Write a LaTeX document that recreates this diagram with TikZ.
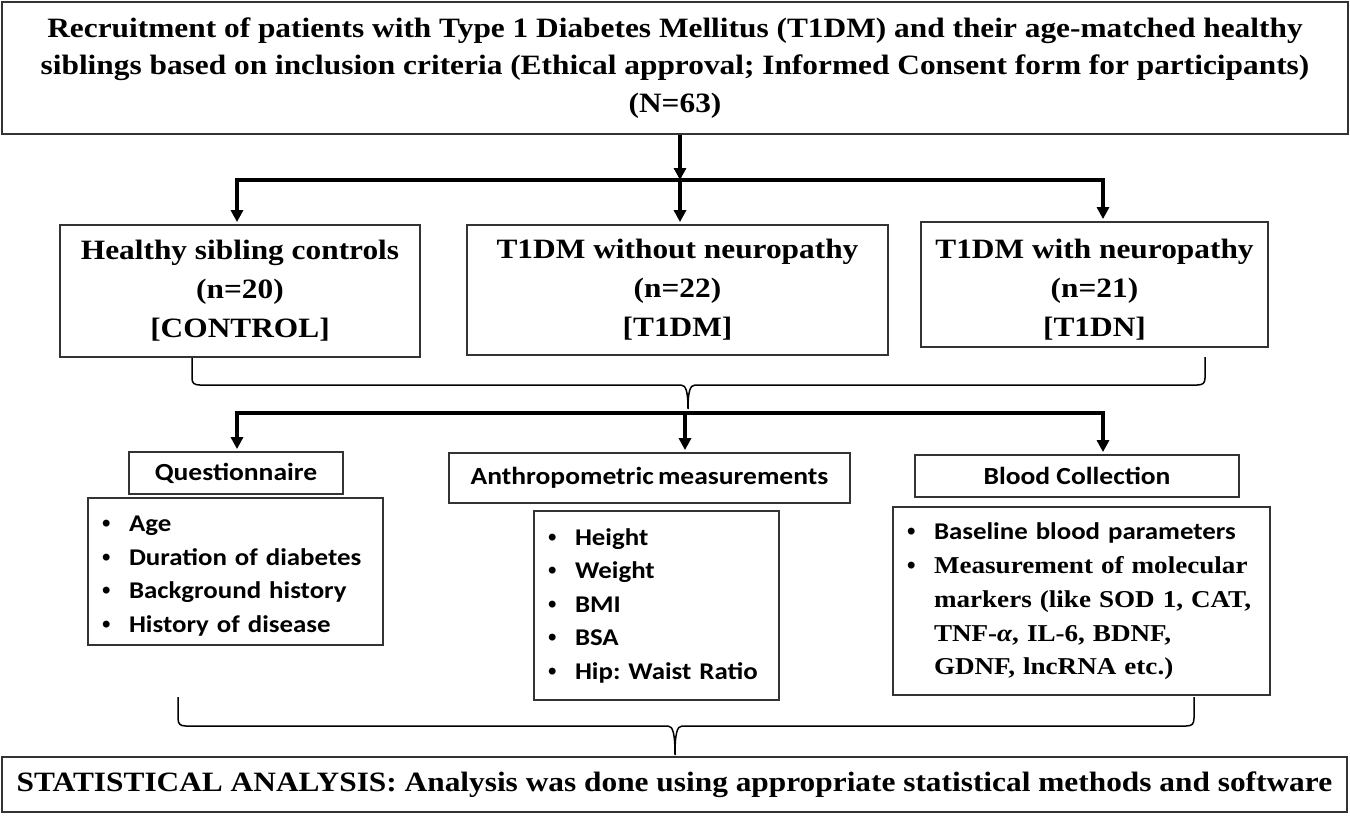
\documentclass[tikz,border=0pt]{standalone}
\usepackage{fontspec}
\setmainfont[FakeStretch=1.12]{Liberation Serif}
\newfontfamily\calibfont[FakeStretch=1.12]{Carlito}
\newfontfamily\dotfont{Liberation Sans}
\usetikzlibrary{arrows.meta}
\newcommand{\bulletline}[1]{\makebox[27pt][l]{\dotfont •}#1}

\begin{document}
\frenchspacing
\begin{tikzpicture}[x=1pt,y=-1pt,>={Triangle[length=12pt,width=12pt]},
  frame node/.style={draw=black!80,line width=1.8pt,inner sep=0pt,align=center},
  head node/.style={frame node,font=\bfseries\fontsize{28}{37.5}\selectfont},
  group node/.style={frame node,font=\bfseries\fontsize{28}{39}\selectfont},
  label node/.style={frame node,font=\calibfont\bfseries\fontsize{24.6}{28}\selectfont},
  list node/.style={frame node,align=left,inner xsep=14pt,font=\calibfont\bfseries\fontsize{24}{33.5}\selectfont},
  thick arrow/.style={->,line width=4pt,shorten >=2pt},
  brace line/.style={line width=1.5pt}]
  \useasboundingbox (0,0) rectangle (1350,815);

  % recruitment
  \node[head node,minimum width=1346pt,minimum height=132pt] (recruit) at (675,68)
    {Recruitment of patients with Type 1 Diabetes Mellitus (T1DM) and their age-matched healthy\\
     siblings based on inclusion criteria (Ethical approval; Informed Consent form for participants)\\
     (N=63)};

  % the three groups
  \node[group node,minimum width=360pt,minimum height=132pt] (ctl) at (240,291)
    {Healthy sibling controls\\(n=20)\\{[CONTROL]}};
  \node[group node,minimum width=421pt,minimum height=130pt] (wo) at (677.5,290)
    {T1DM without neuropathy\\(n=22)\\{[T1DM]}};
  \node[group node,minimum width=347pt,minimum height=125pt] (wn) at (1094.5,284.5)
    {\rule{0pt}{30pt}T1DM with neuropathy\\(n=21)\\{[T1DN]}};

  % what was collected
  \node[label node,minimum width=214pt,minimum height=42pt] (quest) at (236,473) {Questionnaire};
  \node[label node,minimum width=401pt,minimum height=50pt] (anthro) at (649.5,478) {Anthropometric\hspace{-2pt} measurements};
  \node[label node,minimum width=324pt,minimum height=42pt] (blood) at (1077,476) {Blood Collection};

  \node[list node,minimum width=295pt,minimum height=147pt,text width=267pt] (qlist) at (235.5,571.5)
    {\rule{0pt}{25pt}\bulletline{Age}\\
     \bulletline{Duration of diabetes}\\
     \bulletline{Background history}\\
     \bulletline{History of disease}};
  \node[list node,minimum width=245pt,minimum height=189pt,text width=217pt] (alist) at (656.5,605.5)
    {\bulletline{Height}\\
     \bulletline{Weight}\\
     \bulletline{BMI}\\
     \bulletline{BSA}\\
     \bulletline{Hip: Waist Ratio}};
  \node[list node,minimum width=377pt,minimum height=188pt,text width=349pt] (blist) at (1081.5,601)
    {\bulletline{Baseline blood parameters}\\
     \bulletline{\rmfamily\fontsize{24.2}{34}\selectfont Measurement of molecular}\\
     \hspace*{27pt}{\rmfamily\fontsize{24.2}{34}\selectfont markers (like SOD 1, CAT,}\\
     \hspace*{27pt}{\rmfamily\fontsize{24.2}{34}\selectfont TNF-\textit{α}, IL-6, BDNF,}\\
     \hspace*{27pt}{\rmfamily\fontsize{24.2}{34}\selectfont GDNF, lncRNA etc.)}};

  % analysis
  \node[head node,minimum width=1345pt,minimum height=55pt] (stat) at (674.5,784.5)
    {STATISTICAL ANALYSIS: Analysis was done using appropriate statistical methods and software};

  % split points
  \coordinate (sp1) at (680,180);
  \coordinate (sp2) at (685,413);

  \draw[thick arrow,shorten >=0pt] (recruit.south -| sp1) -- (sp1);
  \draw[thick arrow] (sp1) -| ([xshift=-3pt]ctl.north);
  \draw[thick arrow] (sp1) -- (sp1 |- wo.north);
  \draw[thick arrow] (sp1) -| ([xshift=8.5pt]wn.north);

  \draw[thick arrow] (sp2) -| ([xshift=1pt]quest.north);
  \draw[thick arrow] (sp2) -- (sp2 |- anthro.north);
  \draw[thick arrow] (sp2) -| ([xshift=26pt]blood.north);

  % braces
  \coordinate (b1l) at (192,358);
  \coordinate (b1r) at (1205,357);
  \coordinate (b1c) at (688,409);
  \draw[brace line] (b1l) -- (192,378) .. controls (192,383) and (194,385) .. (200,385)
    -- (681,385) .. controls (686,385) and (688,392) .. (b1c)
    .. controls (688,392) and (690,385) .. (695,385)
    -- (1197,385) .. controls (1203,385) and (1205,383) .. (1205,378) -- (b1r);

  \coordinate (b2l) at (178,697);
  \coordinate (b2r) at (1194,697);
  \coordinate (b2c) at (675,755);
  \draw[brace line] (b2l) -- (178,718) .. controls (178,724) and (180,726) .. (186,726)
    -- (668,726) .. controls (673,726) and (675,734) .. (b2c)
    .. controls (675,734) and (677,726) .. (682,726)
    -- (1186,726) .. controls (1192,726) and (1194,724) .. (1194,718) -- (b2r);
\end{tikzpicture}
\end{document}
